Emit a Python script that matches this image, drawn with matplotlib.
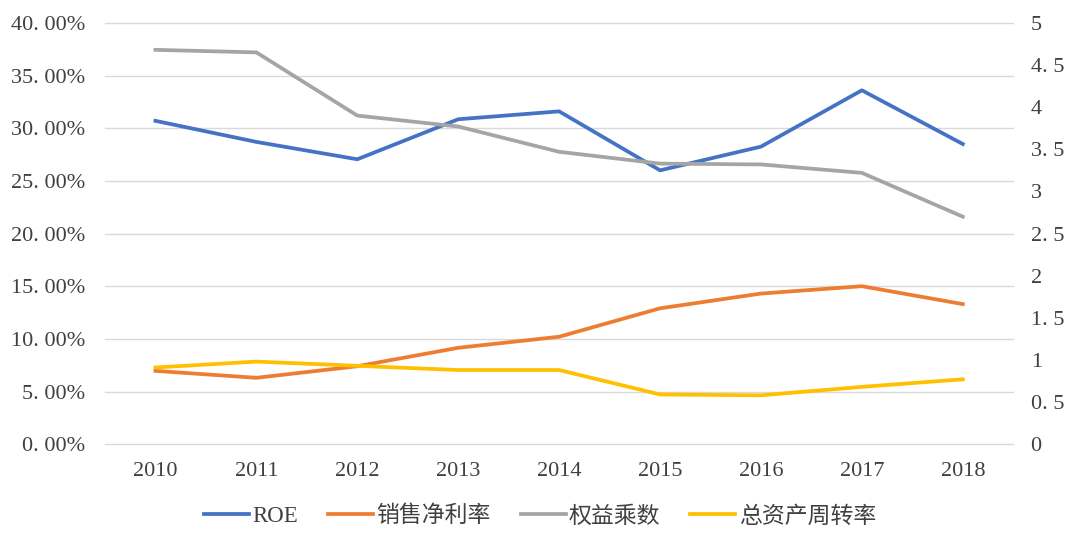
import matplotlib.pyplot as plt
from matplotlib.ticker import FuncFormatter, MultipleLocator

years = ['2010', '2011', '2012', '2013', '2014', '2015', '2016', '2017', '2018']
roe = [30.7, 28.7, 27.05, 30.85, 31.6, 26.0, 28.25, 33.6, 28.5]
net_margin = [6.96, 6.3, 7.4, 9.15, 10.2, 12.9, 14.3, 15.0, 13.3]
equity_mult = [4.68, 4.65, 3.90, 3.77, 3.47, 3.33, 3.32, 3.22, 2.70]
asset_turnover = [0.91, 0.98, 0.93, 0.88, 0.88, 0.59, 0.58, 0.68, 0.77]

fonts = ['Liberation Serif', 'Noto Sans CJK SC', 'DejaVu Sans']
plt.rcParams['font.family'] = fonts

fig = plt.figure(figsize=(10.8, 5.45), dpi=100)
ax = fig.add_axes([0.0972, 0.185, 0.841, 0.773])
ax2 = ax.twinx()

x = range(len(years))
l1, = ax.plot(x, roe, color='#4472C4', lw=2.7, label='ROE')
l2, = ax.plot(x, net_margin, color='#ED7D31', lw=2.7, label='销售净利率')
l3, = ax2.plot(x, equity_mult, color='#A5A5A5', lw=2.7, label='权益乘数')
l4, = ax2.plot(x, asset_turnover, color='#FFC000', lw=2.7, label='总资产周转率')

ax.set_xlim(-0.5, len(years) - 0.5)
ax.set_ylim(0, 40)
ax2.set_ylim(0, 5)
ax.yaxis.set_major_locator(MultipleLocator(5))
ax2.yaxis.set_major_locator(MultipleLocator(0.5))
ax.yaxis.set_major_formatter(FuncFormatter(lambda v, p: f'{v:.2f}%'.replace('.', '. ')))
ax2.yaxis.set_major_formatter(FuncFormatter(lambda v, p: f'{v:g}'.replace('.', '. ')))
ax.set_xticks(list(x))
ax.set_xticklabels(years)

ax.grid(axis='y', color='#d9d9d9', lw=1)
ax.set_axisbelow(True)
for gl in ax.get_ygridlines():
    gl.set_clip_on(False)
for a in (ax, ax2):
    for s in a.spines.values():
        s.set_visible(False)
    a.tick_params(length=0, labelsize=16, colors='#404040')
ax.tick_params(axis='x', pad=13)
ax.tick_params(axis='y', pad=14)
ax2.tick_params(axis='y', pad=12.5)

fig.legend(handles=[l1, l2, l3, l4], loc='center', bbox_to_anchor=(0.5, 0.052),
           ncol=4, frameon=False, fontsize=16.5, handlelength=1.96, handletextpad=0.15,
           columnspacing=1.3, labelcolor='#404040')

fig.savefig('out.png', dpi=100)
